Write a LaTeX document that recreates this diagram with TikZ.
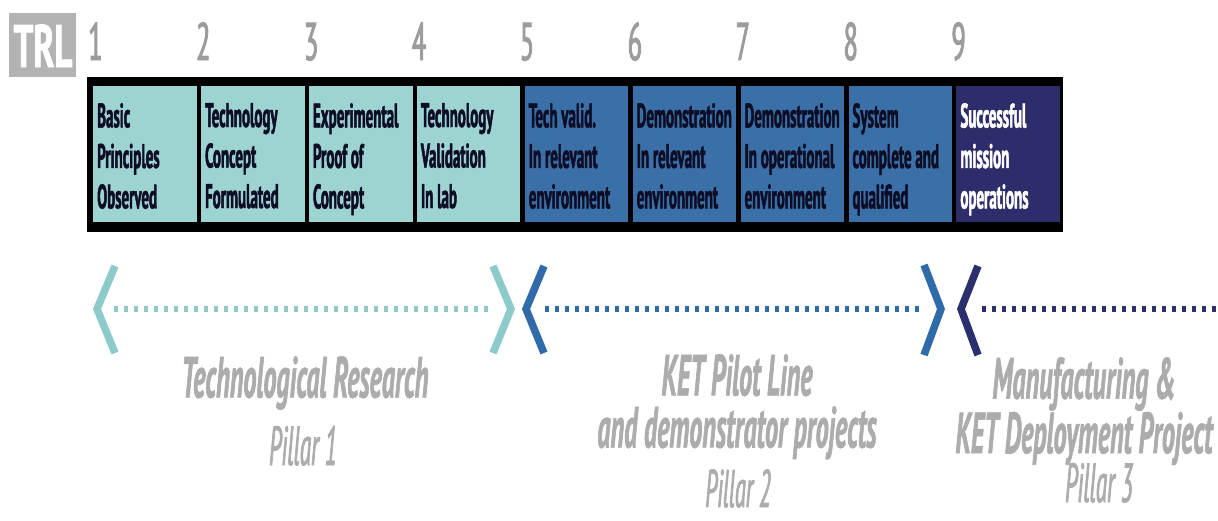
\documentclass[tikz,border=0pt]{standalone}
\usepackage{fontspec}
\setmainfont{PT Sans}
\newfontfamily\cellfont[FakeStretch=0.44,FakeBold=1.4]{PT Sans}
\newfontfamily\numfont[FakeStretch=0.5,FakeBold=1.6]{PT Sans}
\newfontfamily\trlfont[FakeStretch=0.58,FakeBold=1.2]{PT Sans}
\newfontfamily\bigfont[FakeStretch=0.45,FakeBold=1.0]{PT Sans}
\newfontfamily\pilfont[FakeStretch=0.42,FakeBold=1.3]{PT Sans}
\definecolor{lt}{HTML}{9DD3D0}
\definecolor{md}{HTML}{3A70A7}
\definecolor{dk}{HTML}{2E2D6B}
\definecolor{ink}{HTML}{0D0D26}
\definecolor{pone}{HTML}{8DCBCB}
\definecolor{ptwo}{HTML}{2F6BA8}
\definecolor{pthree}{HTML}{2C2F6E}
\definecolor{trlgray}{HTML}{B3B3B3}
\definecolor{numgray}{HTML}{9C9C9C}
\definecolor{txtgray}{HTML}{ACACAC}
\tikzset{
  cellbox/.style={draw=none, inner sep=0, anchor=north west, minimum width=103.5pt, minimum height=136pt},
  celltext/.style={inner sep=0, anchor=north west, align=left, font=\cellfont\bfseries\fontsize{34}{40.5}\selectfont},
  numstyle/.style={inner sep=0, anchor=base west, text=numgray, font=\numfont\fontsize{53}{53}\selectfont},
  chev/.style={line width=7.5pt, miter limit=10, line join=miter},
  dotline/.style={line width=6pt, dash pattern=on 3.8pt off 6.2pt},
  bigtxt/.style={inner sep=0, anchor=north, align=center, text=txtgray, font=\bigfont\bfseries\itshape\fontsize{58}{50.5}\selectfont},
  piltxt/.style={inner sep=0, anchor=base, text=txtgray, font=\pilfont\itshape\fontsize{55}{55}\selectfont}
}
\begin{document}
\begin{tikzpicture}[x=1pt,y=-1pt]
\useasboundingbox (0,0) rectangle (1218,520);
% TRL label
\node[fill=trlgray, inner sep=0, anchor=north west, minimum width=67pt, minimum height=64pt] (trl) at (9,13) {};
\node[inner sep=0, anchor=base, text=white, font=\trlfont\bfseries\fontsize{60}{60}\selectfont] (trltxt) at (43,67) {TRL};
% bar
\node[fill=black, inner sep=0, anchor=north west, minimum width=976pt, minimum height=155pt] (bar) at (87,77) {};
% cells
\foreach \i/\fc/\tc/\txt in {
  1/lt/ink/{Basic\\Principles\\Observed},
  2/lt/ink/{Technology\\Concept\\Formulated},
  3/lt/ink/{Experimental\\Proof of\\Concept},
  4/lt/ink/{Technology\\Validation\\In lab},
  5/md/ink/{Tech valid.\\In relevant\\environment},
  6/md/ink/{Demonstration\\In relevant\\environment},
  7/md/ink/{Demonstration\\In operational\\environment},
  8/md/ink/{System\\complete and\\qualified},
  9/dk/white/{Successful\\mission\\operations}}{
  \node[cellbox, fill=\fc] (c\i) at ({93+(\i-1)*107.9},86) {};
  \node[celltext, text=\tc] (t\i) at ({97+(\i-1)*107.9},103) {\txt};
  \node[numstyle] (n\i) at ({88+(\i-1)*107.9},60) {\i};
}
% pillar 1
\coordinate (p1la) at (115,266); \coordinate (p1lt) at (97,309); \coordinate (p1lb) at (115,353);
\coordinate (p1ra) at (493,266); \coordinate (p1rt) at (511,309); \coordinate (p1rb) at (493,353);
\coordinate (d1s) at (114,309); \coordinate (d1e) at (488,309);
\draw[chev, pone] (p1la) -- (p1lt) -- (p1lb);
\draw[chev, pone] (p1ra) -- (p1rt) -- (p1rb);
\draw[dotline, pone] (d1s) -- (d1e);
% pillar 2
\coordinate (p2la) at (544,266); \coordinate (p2lt) at (526,309); \coordinate (p2lb) at (544,353);
\coordinate (p2ra) at (924,265); \coordinate (p2rt) at (941,309); \coordinate (p2rb) at (924,355);
\coordinate (d2s) at (545,309); \coordinate (d2e) at (920,309);
\draw[chev, ptwo] (p2la) -- (p2lt) -- (p2lb);
\draw[chev, ptwo] (p2ra) -- (p2rt) -- (p2rb);
\draw[dotline, ptwo] (d2s) -- (d2e);
% pillar 3
\coordinate (p3la) at (978,266); \coordinate (p3lt) at (961,309); \coordinate (p3lb) at (978,355);
\coordinate (d3s) at (982,309); \coordinate (d3e) at (1216,309);
\draw[chev, pthree] (p3la) -- (p3lt) -- (p3lb);
\draw[dotline, pthree] (d3s) -- (d3e);
% texts
\node[bigtxt] (tr) at (305,356) {Technological Research};
\node[piltxt] (pil1) at (303,465) {Pillar 1};
\node[bigtxt, font=\bigfont\bfseries\itshape\fontsize{58}{52}\selectfont] (ket) at (737,354) {KET Pilot Line\\and demonstrator projects};
\node[piltxt, font=\pilfont\itshape\fontsize{53}{53}\selectfont] (pil2) at (738,507) {Pillar 2};
\node[bigtxt, font=\bigfont\bfseries\itshape\fontsize{58}{49}\selectfont] (man) at (1084,357) {Manufacturing \&\\KET Deployment Project};
\node[piltxt] (pil3) at (1099,502) {Pillar 3};
\end{tikzpicture}
\end{document}
